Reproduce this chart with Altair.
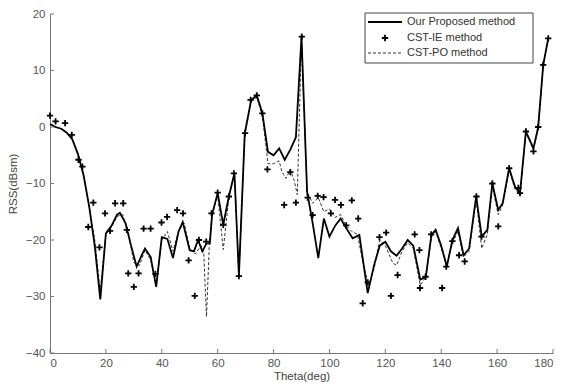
import altair as alt
import pandas as pd

# Our Proposed method (solid line)
prop_x = [0,2,4,6,8,10,12,14,16,18,20,22,24,25,27,29,31,33,34,36,38,40,42,44,46,47.5,50,51.5,53,54.5,56,57.2,58,60,62,64,66,67.6,69.7,72,74,76,78,80,82,84,86,88,90,92,94,96,98,100,102,104,106,108.3,110.7,113.7,116,118,120,122,124,126,128,130,132.5,134.5,136.5,138,140,142,144,146,148,150,152.5,154.5,156.5,158.3,160.4,162,164.3,166.4,168.2,170.3,173,174.7,176.5,178.3]
prop_y = [0.5,0,-0.3,-1,-2.2,-4.8,-8.5,-14,-21,-30.5,-18.8,-17.5,-15.5,-15.2,-17,-21,-24.7,-22.5,-21.5,-23,-28.3,-19.5,-19.8,-23.2,-18.5,-16.8,-21.8,-22,-20,-22,-20.6,-20.6,-15.5,-11.7,-17.3,-12.3,-8.2,-26.3,-1.1,4.8,5.6,2.4,-4.4,-5,-3.8,-5.8,-4,-1.8,16,-11.5,-17,-23.2,-16.2,-19.4,-17.5,-16.2,-17.9,-19.7,-19.1,-29.4,-24.4,-21,-20.3,-22,-22.8,-21.5,-20,-21,-27,-26.5,-19.1,-18.2,-21,-24.7,-20,-17.9,-22.7,-21.5,-12.3,-19.4,-18.2,-10,-14.7,-13.5,-7.3,-10.6,-11.7,-0.8,-3.8,0,11,15.7]

# CST-PO method (dashed line)
po_x = [0,2,4,6,8,10,12,14,16,18,20,22,24,26,28,30,32,34,36,38,40,42,44,46,48,50,52,54,55,56,57,58,60,62,64,66,67.6,69.7,72,74,76,78,80,82,83,84.4,86,87.4,88.5,90,92,94,96,98,100,102,104,106,108,110,112,114,116,118,120,122.7,124,126,128,130,132.5,134.5,136.5,138,140,142,144,146,148,150,152.5,154.5,156.5,158.3,160.4,162,164.3,166.4,168.2,170.3,173,174.7,176.5,178.3]
po_y = [0.5,0,-0.3,-1,-2.2,-4.8,-8.5,-14,-20,-29,-19,-17.8,-15.8,-15.5,-18.5,-24,-24.5,-21.8,-23.5,-28,-20,-18.5,-22,-18.5,-17,-21.5,-22.5,-21,-22,-33.6,-21,-15.5,-12,-21.7,-12.5,-8.2,-26.3,-1.5,4.5,5.3,2,-6.5,-6.5,-6,-7.9,-9.1,-7.6,-9.5,-12,15.8,-11.5,-13.5,-12.5,-15,-14.5,-16,-15.5,-17.5,-18.5,-19,-24,-28,-25,-20,-21,-24.1,-24.5,-22,-20.5,-21.5,-28,-26.5,-19.5,-18.5,-21.5,-24.5,-20.5,-18.5,-23,-22,-12.8,-21.5,-19,-10.5,-15.5,-13.8,-7.6,-11,-12,-1,-4,-0.3,10.8,15.5]

# CST-IE method (markers)
ie_x = [0,2,5.4,7.8,10.2,11.6,13.7,15.5,17.7,19.7,21.5,23.3,26.2,27.5,28,30,31.7,33.5,36,37.7,39.9,41.9,45.5,47.6,49.6,51.8,53.3,55.9,57.8,60,62,64,65.8,67.6,69.8,71.8,74,76,77.8,83.8,86,88,90.1,92.2,94,95.8,97.9,100.5,102,104.1,106,108,110.3,111.9,113.7,117.9,120.3,122,124.4,130.5,132.2,132.4,134.4,136.4,140.3,141.8,144,146.4,148.4,152.6,154.4,158.3,160.4,164.3,167.6,168.2,170.3,173,174.7,176.5,178.3]
ie_y = [2,1,0.7,-1.4,-5.8,-7,-17.7,-13.4,-21.3,-15.3,-18.4,-13.5,-13.5,-18.2,-25.9,-28.3,-25.9,-18,-18,-26,-16.9,-15.9,-14.7,-15.3,-23.6,-29.9,-20,-20.3,-15.3,-11.6,-17.3,-12.3,-8.2,-26.4,-1.1,4.8,5.6,2.4,-7.5,-13.8,-8,-13.4,16,-12.5,-15.6,-12.2,-12.4,-15.3,-12.9,-13.8,-17.4,-13,-16.2,-31.2,-27.5,-19.5,-18.7,-29.9,-26.2,-19,-21.8,-28.5,-26.5,-19,-28.5,-24.7,-20.2,-22.7,-23.8,-12.3,-19.4,-10,-17.6,-7.3,-10.8,-11.7,-0.8,-4.3,0,11,15.7]

series_names = ["Our Proposed method", "CST-IE method", "CST-PO method"]
x_ticks = [0, 20, 40, 60, 80, 100, 120, 140, 160, 180]
y_ticks = [-40, -30, -20, -10, 0, 10, 20]

W, H = 503, 339
FONT = "Liberation Sans"
CROSS = "M-1,0L1,0M0,-1L0,1"

xs = alt.Scale(domain=[0, 180], nice=False, zero=False)
ys = alt.Scale(domain=[-40, 20], nice=False, zero=False)

prop_df = pd.DataFrame({"theta": prop_x, "rss": prop_y, "order": range(len(prop_x))})
po_df = pd.DataFrame({"theta": po_x, "rss": po_y, "order": range(len(po_x))})
ie_df = pd.DataFrame({"theta": ie_x, "rss": ie_y})

x_axis = alt.Axis(values=x_ticks, title="Theta(deg)", grid=False, ticks=False,
                  labelPadding=4, titlePadding=2, domainColor="#777",
                  labelFont=FONT, labelFontSize=11.5, labelColor="#555",
                  titleFont=FONT, titleFontSize=11.5, titleColor="#444", titleFontWeight="normal")
y_axis = alt.Axis(values=y_ticks, title="RSS(dBsm)", grid=False, ticks=False,
                  labelPadding=5, titlePadding=7, domainColor="#777",
                  labelFont=FONT, labelFontSize=11.5, labelColor="#555",
                  titleFont=FONT, titleFontSize=11.5, titleColor="#444", titleFontWeight="normal")

po_layer = alt.Chart(po_df).mark_line(color="#333", strokeWidth=1.0, strokeDash=[3, 2]).encode(
    x=alt.X("theta:Q", scale=xs, axis=x_axis),
    y=alt.Y("rss:Q", scale=ys, axis=y_axis),
    order="order:Q",
)
prop_layer = alt.Chart(prop_df).mark_line(color="black", strokeWidth=1.8).encode(
    x=alt.X("theta:Q", scale=xs),
    y=alt.Y("rss:Q", scale=ys),
    order="order:Q",
)
ie_layer = alt.Chart(ie_df).mark_point(shape=CROSS, filled=False, size=40, strokeWidth=1.8, color="black", opacity=1).encode(
    x=alt.X("theta:Q", scale=xs),
    y=alt.Y("rss:Q", scale=ys),
)

xt = alt.Chart(pd.DataFrame({"v": x_ticks})).mark_rule(color="#777").encode(
    x=alt.X("v:Q", scale=xs), y=alt.value(H), y2=alt.value(H - 4))
yt = alt.Chart(pd.DataFrame({"v": y_ticks})).mark_rule(color="#777").encode(
    y=alt.Y("v:Q", scale=ys), x=alt.value(0), x2=alt.value(4))

# legend (drawn as a small panel of its own)
LX0, LX1, LY0, LY1 = 315, 483, -1, 49
row_y = [8, 24, 39]
one = pd.DataFrame({"k": [0]})
leg_box = alt.Chart(one).mark_rect(fill="white", stroke="#444", strokeWidth=1).encode(
    x=alt.value(LX0), x2=alt.value(LX1), y=alt.value(LY0), y2=alt.value(LY1))
leg_solid = alt.Chart(one).mark_rule(color="black", strokeWidth=1.8).encode(
    x=alt.value(318), x2=alt.value(352), y=alt.value(row_y[0]))
leg_cross = alt.Chart(one).mark_point(shape=CROSS, filled=False, size=40, strokeWidth=1.8, color="black", opacity=1).encode(
    x=alt.value(335), y=alt.value(row_y[1]))
leg_dash = alt.Chart(one).mark_rule(color="#333", strokeWidth=1.0, strokeDash=[3, 2]).encode(
    x=alt.value(318), x2=alt.value(352), y=alt.value(row_y[2]))
leg_text = alt.layer(*[
    alt.Chart(pd.DataFrame({"name": [n]})).mark_text(align="left", baseline="middle", font=FONT, fontSize=11, color="#333").encode(
        x=alt.value(357), y=alt.value(yy), text="name:N")
    for n, yy in zip(series_names, row_y)
])

chart = alt.layer(po_layer, prop_layer, ie_layer, xt, yt,
                  leg_box, leg_solid, leg_cross, leg_dash, leg_text).properties(
    width=W, height=H,
    autosize=alt.AutoSizeParams(type="none"),
    padding={"left": 50, "top": 14, "right": 10, "bottom": 34},
).configure_view(stroke=None).configure_axis(domainWidth=1)

chart.save("out.html", embed_options={"renderer": "svg", "actions": False})
